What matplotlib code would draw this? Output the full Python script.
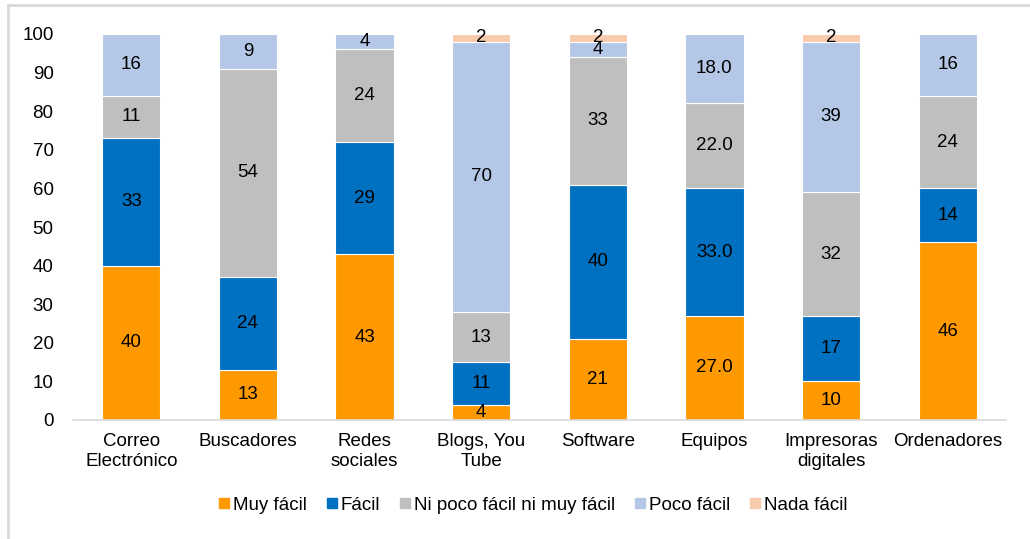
import matplotlib.pyplot as plt
import numpy as np
from matplotlib.lines import Line2D

plt.rcParams['font.family'] = ['Liberation Sans', 'DejaVu Sans']

categories = ["Correo\nElectrónico", "Buscadores", "Redes\nsociales", "Blogs, You\nTube",
              "Software", "Equipos", "Impresoras\ndigitales", "Ordenadores"]
series_names = ["Muy fácil", "Fácil", "Ni poco fácil ni muy fácil", "Poco fácil", "Nada fácil"]
muy_facil = [40, 13, 43, 4, 21, 27, 10, 46]
facil = [33, 24, 29, 11, 40, 33, 17, 14]
ni_ni = [11, 54, 24, 13, 33, 22, 32, 24]
poco_facil = [16, 9, 4, 70, 4, 18, 39, 16]
nada_facil = [0, 0, 0, 2, 2, 0, 2, 0]
# "Equipos" labels are shown with one decimal in the original
label_decimals = [0, 0, 0, 0, 0, 1, 0, 0]

colors = ['#FF9900', '#0070C0', '#BFBFBF', '#B4C7E7', '#F8CBAD']
series = [muy_facil, facil, ni_ni, poco_facil, nada_facil]

fig = plt.figure(figsize=(10.30, 5.39), dpi=100)
ax = fig.add_axes([73 / 1030, (539 - 420) / 539, (1006 - 73) / 1030, (420 - 34) / 539])

x = np.arange(len(categories))
bottom = np.zeros(len(categories))
for name, vals, col in zip(series_names, series, colors):
    vals = np.array(vals, dtype=float)
    ax.bar(x, vals, bottom=bottom, width=0.5, color=col, edgecolor='white',
           linewidth=0.8, label=name)
    for i, v in enumerate(vals):
        if v > 0:
            txt = f"{v:.{label_decimals[i]}f}"
            ax.text(x[i], bottom[i] + v / 2, txt, ha='center', va='center',
                    fontsize=13.5, color='black')
    bottom += vals

ax.set_xlim(-0.5, len(categories) - 0.5)
ax.set_ylim(0, 100)
ax.set_yticks(range(0, 101, 10))
ax.set_xticks(x)
ax.set_xticklabels(categories, fontsize=13.5, linespacing=1.3)
ax.tick_params(axis='y', labelsize=13.5, length=0, pad=14)
ax.tick_params(axis='x', length=0, pad=9)
for s in ['top', 'right', 'left']:
    ax.spines[s].set_visible(False)
ax.spines['bottom'].set_color('#D9D9D9')
ax.spines['bottom'].set_linewidth(1.2)

handles = [Line2D([0], [0], marker='s', linestyle='none', markersize=7.2,
                  markerfacecolor=c, markeredgecolor=c) for c in colors]
fig.legend(handles, series_names, loc='center', bbox_to_anchor=(533 / 1030, 1 - 505 / 539),
           ncol=5, frameon=False, fontsize=13.5, handletextpad=0.2, columnspacing=1.0,
           handlelength=0.6)

# light frame at top and left edges
fig.add_artist(Line2D([8 / 1030, 1], [1 - 5 / 539, 1 - 5 / 539], color='#D9D9D9', lw=2,
                      transform=fig.transFigure))
fig.add_artist(Line2D([8 / 1030, 8 / 1030], [0, 1 - 5 / 539], color='#D9D9D9', lw=2,
                      transform=fig.transFigure))

fig.savefig('out.png', dpi=100, facecolor='white')
